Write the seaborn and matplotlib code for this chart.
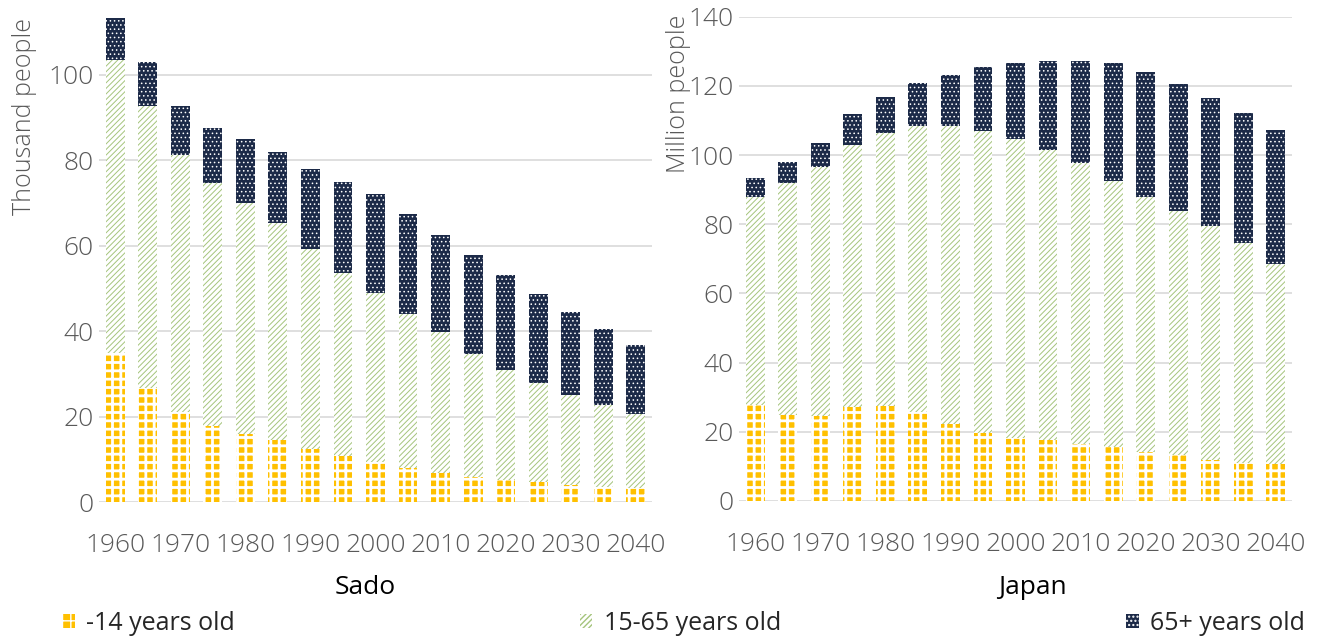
import numpy as np
import pandas as pd
import matplotlib
matplotlib.use("Agg")
import matplotlib.pyplot as plt
import matplotlib.patches as mpatches
import seaborn as sns

# population by age group, every 5 years (2020+ projected)
years = [str(y) for y in range(1960, 2045, 5)]

sado_young = [34.9, 26.6, 21.1, 17.8, 15.9, 14.4, 12.3, 10.8, 9.3, 8.0, 6.9, 5.9, 5.2, 4.6, 4.0, 3.6, 3.3]
sado_working = [68.6, 66.1, 60.2, 56.8, 54.2, 51.0, 46.9, 42.9, 39.7, 36.0, 32.8, 28.8, 25.7, 23.2, 21.1, 19.1, 17.2]
sado_old = [9.8, 10.2, 11.3, 12.9, 14.8, 16.5, 18.8, 21.2, 23.1, 23.4, 22.8, 23.1, 22.3, 20.8, 19.3, 17.7, 16.3]

japan_young = [27.8, 24.9, 24.6, 27.3, 27.4, 25.6, 22.3, 19.6, 18.3, 17.6, 16.5, 15.7, 14.3, 13.3, 11.9, 11.1, 10.6]
japan_working = [60.2, 67.1, 71.9, 75.6, 78.9, 82.8, 86.1, 87.5, 86.4, 83.9, 81.3, 76.9, 73.5, 70.6, 67.7, 63.6, 57.9]
japan_old = [5.3, 6.1, 7.1, 8.9, 10.6, 12.5, 14.8, 18.3, 22.0, 25.8, 29.3, 33.9, 36.2, 36.7, 36.8, 37.4, 38.8]

group_labels = ["-14 years old", "15-65 years old", "65+ years old"]

YELLOW = "#FFC000"
GREEN = "#A5C47C"
NAVY = "#1C2A48"
GRAY_TXT = "#595959"
GRID = "#D9D9D9"

sns.set_theme(style="white")
plt.rcParams["font.family"] = ["Open Sans", "DejaVu Sans"]

# style per layer: (face, hatch colour, hatch, hatch linewidth)
styles = {
    "old": (NAVY, "white", "....", 0.6),
    "working": ("white", GREEN, "//////", 0.7),
    "young": (YELLOW, "white", "++", 2.0),
}


def draw_panel(ax, young, working, old, ylim, yticks, ylabel):
    df = pd.DataFrame({"year": years, "young": young, "working": working, "old": old})
    df["cum_working"] = df["young"] + df["working"]
    df["total"] = df["cum_working"] + df["old"]

    # back to front: total, young+working, young
    for col, key in [("total", "old"), ("cum_working", "working"), ("young", "young")]:
        face, hcol, hatch, hlw = styles[key]
        with plt.rc_context({"hatch.linewidth": hlw, "hatch.color": hcol}):
            sns.barplot(data=df, x="year", y=col, ax=ax, color=face, saturation=1,
                        width=0.58, errorbar=None, edgecolor=hcol, linewidth=0,
                        hatch=hatch)

    ax.set_xlim(-0.5, len(years) - 0.5)
    ax.set_ylim(*ylim)
    ax.set_yticks(yticks)
    ax.set_xticks(range(0, len(years), 2))
    ax.set_xticklabels(years[::2])
    ax.set_xlabel("")
    ax.set_ylabel(ylabel, color=GRAY_TXT, fontsize=18, fontweight="light")
    ax.yaxis.grid(True, color=GRID, linewidth=1.2)
    ax.set_axisbelow(True)
    ax.tick_params(axis="both", length=0, labelsize=19, labelcolor=GRAY_TXT)
    ax.tick_params(axis="x", pad=22)
    ax.tick_params(axis="y", pad=4)
    for lab in ax.get_xticklabels() + ax.get_yticklabels():
        lab.set_fontweight("light")
    for s in ax.spines.values():
        s.set_visible(False)


fig = plt.figure(figsize=(13.17, 6.42), dpi=100)

ax1 = fig.add_axes([99 / 1317, 140 / 642, 553 / 1317, 502 / 642])
draw_panel(ax1, sado_young, sado_working, sado_old, (0, 117.5), range(0, 101, 20), "Thousand people")
ax1.yaxis.set_label_coords(-0.112, 0.767)

ax2 = fig.add_axes([739 / 1317, 141 / 642, 553 / 1317, 484.3 / 642])
draw_panel(ax2, japan_young, japan_working, japan_old, (0, 140), range(0, 141, 20), "Million people")
ax2.yaxis.set_label_coords(-0.086, 0.84)

fig.text(365 / 1317, 1 - 588 / 642, "Sado", ha="center", va="center", fontsize=19, color="black")
fig.text(1032 / 1317, 1 - 588 / 642, "Japan", ha="center", va="center", fontsize=19, color="black")

handles = []
for key, lab in zip(["young", "working", "old"], group_labels):
    face, hcol, hatch, hlw = styles[key]
    with plt.rc_context({"hatch.linewidth": hlw, "hatch.color": hcol}):
        handles.append(mpatches.Patch(facecolor=face, edgecolor=hcol, hatch=hatch,
                                      linewidth=0, label=lab))

fig.legend(handles=handles, loc="center", ncol=3, mode="expand",
           bbox_to_anchor=(62 / 1317, 1 - 637 / 642, 1243 / 1317, 28 / 642),
           frameon=False, fontsize=18, handlelength=0.5, handleheight=0.5,
           handletextpad=0.45, borderaxespad=0, borderpad=0)

fig.savefig("out.png", dpi=100)
